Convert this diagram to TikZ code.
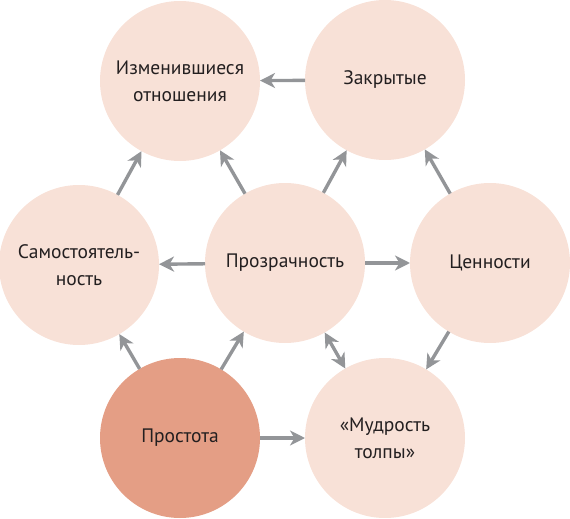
\documentclass[tikz,border=0pt]{standalone}
\usepackage{fontspec}
\setmainfont{PT Sans}
\usetikzlibrary{arrows.meta}
\definecolor{lightc}{HTML}{F8E1D7}
\definecolor{darkc}{HTML}{E49E85}
\definecolor{arrc}{HTML}{939598}
\definecolor{txtc}{HTML}{231F20}
\begin{document}
\begin{tikzpicture}[x=1pt,y=-1pt,
  bubble/.style={circle,minimum size=160pt,inner sep=0pt,outer sep=0pt,fill=lightc,
    text=txtc,align=center,font=\fontsize{19.5}{27}\selectfont},
  darkbubble/.style={bubble,fill=darkc},
  arr/.style={draw=arrc,line width=3.4pt,-{Stealth[length=15pt,width=15pt,inset=4.5pt]}},
  darr/.style={draw=arrc,line width=3.4pt,{Stealth[length=15pt,width=15pt,inset=4.5pt]}-{Stealth[length=15pt,width=15pt,inset=4.5pt]}}]
\useasboundingbox (0,0) rectangle (570,519);
\node[bubble] (izm) at (180,81) {Изменившиеся\\отношения};
\node[bubble] (zak) at (385,80) {Закрытые};
\node[bubble] (sam) at (79,265) {Самостоятель-\\ность};
\node[bubble] (pro) at (285,263) {Прозрачность};
\node[bubble] (cen) at (490,263) {Ценности};
\node[darkbubble] (prs) at (180,438) {Простота};
\node[bubble] (mud) at (385,438) {«Мудрость\\толпы»};
\draw[arr] (zak) -- (izm);
\draw[arr] (sam) -- (izm);
\draw[arr] (pro) -- (izm);
\draw[arr] (pro) -- (zak);
\draw[arr] (cen) -- (zak);
\draw[arr] (pro) -- (sam);
\draw[arr] (pro) -- (cen);
\draw[arr] (prs) -- (sam);
\draw[arr] (prs) -- (pro);
\draw[darr] (pro) -- (mud);
\draw[arr] (cen) -- (mud);
\draw[arr] (prs) -- (mud);
\end{tikzpicture}
\end{document}
